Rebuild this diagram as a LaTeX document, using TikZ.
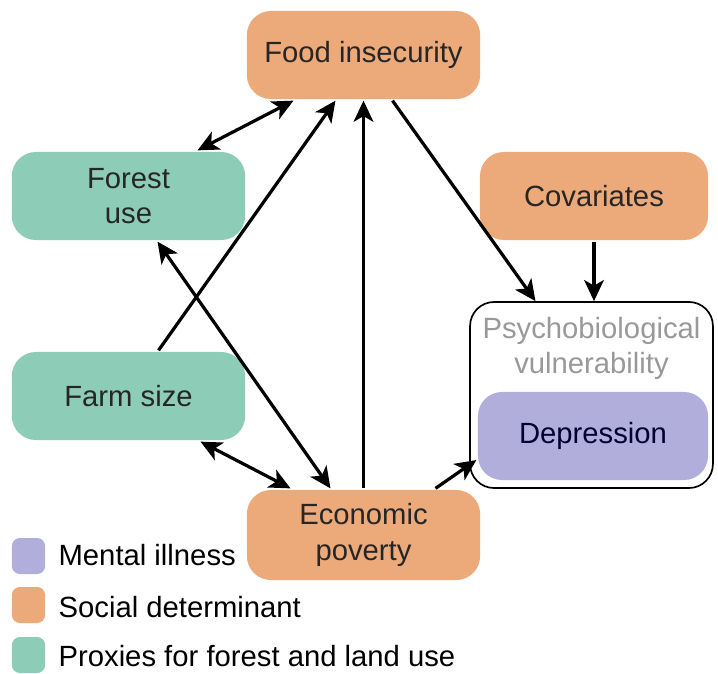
\documentclass[tikz,border=0pt]{standalone}
\usepackage{fontspec}
\setmainfont{Liberation Sans}
\usetikzlibrary{arrows.meta,calc,shapes}
\definecolor{social}{RGB}{236,169,122}
\definecolor{proxy}{RGB}{141,205,183}
\definecolor{mental}{RGB}{177,174,219}
\tikzstyle{bx} = [rectangle, fill=social, text=black!85, align=center,
    minimum width=5.83cm, minimum height=2.2cm, rounded corners=0.6cm,
    inner sep=0pt]
\tikzstyle{key} = [rectangle, minimum width=0.83cm, minimum height=0.9cm,
    rounded corners=0.2cm, inner sep=0pt]
\tikzstyle{tip} = [-{Stealth[length=15pt,width=14pt,inset=4pt]}]

\begin{document}
\begin{tikzpicture}[x=0.025cm,y=-0.025cm,<->,>={Stealth[length=15pt,width=14pt,inset=4pt]},
                    line width=2.3pt,
                    every node/.style={font=\fontsize{20.8}{25}\selectfont}]
  \useasboundingbox (0,0) rectangle (718,673);

  \node[bx]                    (1) at (363.5,55)  {Food insecurity};
  \node[bx, fill=proxy]        (2) at (128.5,196) {Forest\\use};
  \node[bx, minimum width=5.7cm] (3) at (594,196) {Covariates};
  \node[bx, fill=proxy]        (4) at (128.5,396) {Farm size};
  \node[bx, minimum height=2.25cm] (5) at (363.5,535) {Economic\\poverty};
  \node[bx, fill=none, draw, line width=1.2pt, minimum width=6.07cm,
        minimum height=4.65cm,
        label={[anchor=north, yshift=-7pt, text=black!40, align=center,
                font=\fontsize{20.8}{25}\selectfont]north:Psychobiological\\vulnerability}]
                               (7) at (591.5,395) {};
  \node[bx, fill=mental, text=black!80!blue, minimum width=5.75cm] (6) at (593,436) {Depression};

  % legend
  \node[key, fill=mental] (k1) at (28.5,556) {};
  \node[key, fill=social] (k2) at (28.5,605) {};
  \node[key, fill=proxy]  (k3) at (28.5,655) {};
  \node[anchor=base west, inner sep=0pt] (t1) at (57,565) {Mental illness};
  \node[anchor=base west, inner sep=0pt] (t2) at (57,617) {Social determinant};
  \node[anchor=base west, inner sep=0pt] (t3) at (57,666) {Proxies for forest and land use};

  \path ($(2.north)+(69,0)$) edge ($(1.south)+(-70,0)$)
  ($(4.north)+(30,0)$) edge[tip] ($(1.south)+(-28,0)$)
  (5.north) edge[tip] (1.south)
  ($(1.south)+(29,0)$) edge[tip] ($(7.north)+(-56,0)$)
  (3.south) edge[tip] (3.south |- 7.north)
  ($(2.south)+(29,0)$) edge ($(5.north)+(-33,0)$)
  ($(4.south)+(72,0)$) edge ($(5.north)+(-73,0)$)
  ($(5.north)+(72,0)$) edge[tip] ($(6.west)+(0,24)$);
\end{tikzpicture}
\end{document}
